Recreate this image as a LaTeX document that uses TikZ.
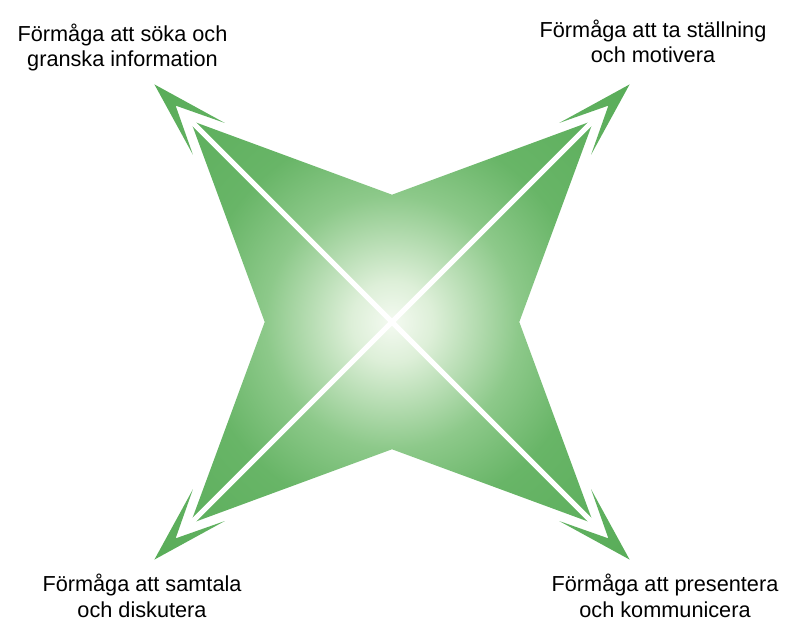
\documentclass[tikz,border=0pt]{standalone}
\usepackage{fontspec}
\setmainfont{Liberation Sans}
\definecolor{g0}{HTML}{F4FAF1}
\definecolor{g1}{HTML}{DDEFD8}
\definecolor{g2}{HTML}{8DC98A}
\definecolor{g3}{HTML}{68B567}
\definecolor{g4}{HTML}{58AC58}
\pgfdeclareradialshading{starshade}{\pgfpoint{0bp}{0bp}}{color(0bp)=(g0); color(3bp)=(g1); color(9.3bp)=(g2); color(14.3bp)=(g3); color(25bp)=(g4); color(50bp)=(g4)}
\begin{document}
\begin{tikzpicture}[x=1pt,y=1pt,
  lbl/.style={font=\fontsize{21.7}{25.5}\selectfont, align=center, inner sep=0pt, anchor=base},
  whiteline/.style={draw=white, line width=5pt}]
\useasboundingbox (0,0) rectangle (795,640);
\begin{scope}[shift={(392,318)}]
  \coordinate (O) at (0,0);
  \coordinate (tl) at (135:298);
  \coordinate (tr) at (45:298);
  \coordinate (bl) at (225:298);
  \coordinate (br) at (315:298);
  \begin{scope}
    \clip (45:285) -- (90:127.3) -- (135:285) -- (180:127.3) -- (225:285) -- (270:127.3) -- (315:285) -- (0:127.3) -- cycle
      \foreach \a in {45,135,225,315} { ({\a}:336) -- ({\a+4.965}:260) -- ({\a}:306) -- ({\a-4.965}:260) -- cycle };
    \shade[shading=starshade] (0,0) circle (340);
  \end{scope}
  \draw[whiteline] (tl) -- (br);
  \draw[whiteline] (tr) -- (bl);
\end{scope}
\node[lbl] (ntl) at (122.5,573) {Förmåga att söka och\\granska information};
\node[lbl] (ntr) at (653,577) {Förmåga att ta ställning\\och motivera};
\node[lbl] (nbl) at (142,23) {Förmåga att samtala\\och diskutera};
\node[lbl] (nbr) at (665,23) {Förmåga att presentera\\och kommunicera};
\end{tikzpicture}
\end{document}
